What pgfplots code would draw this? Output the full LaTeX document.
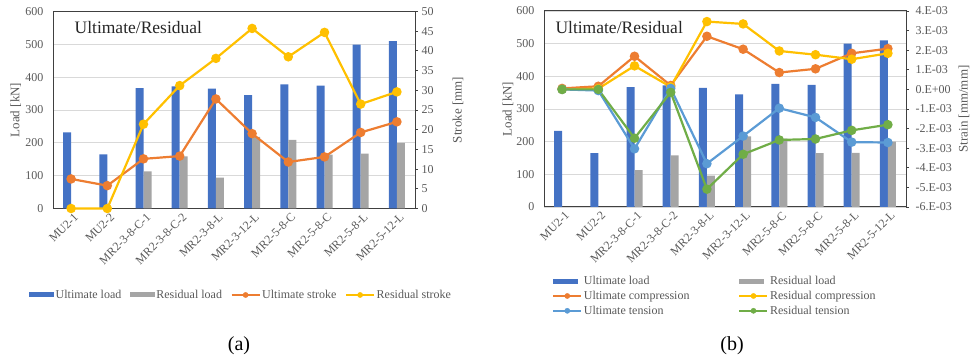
\documentclass[border=0pt]{standalone}
\usepackage{fontspec}
\setmainfont{Liberation Serif}
\usepackage{pgfplots}
\pgfplotsset{compat=1.18}

\definecolor{ulblue}{HTML}{4472C4}
\definecolor{rlgray}{HTML}{A5A5A5}
\definecolor{uorange}{HTML}{ED7D31}
\definecolor{ryellow}{HTML}{FFC000}
\definecolor{utblue}{HTML}{5B9BD5}
\definecolor{rgreen}{HTML}{70AD47}
\definecolor{axisgray}{HTML}{404040}
\definecolor{ticktext}{HTML}{595959}
\definecolor{gridgray}{HTML}{D9D9D9}

\pgfplotsset{
  common/.style={
    scale only axis, width=362pt, height=197pt, anchor=south west,
    xmin=-0.5, xmax=9.5,
    ticklabel style={font=\fontsize{12}{13}\selectfont, text=ticktext},
    label style={font=\fontsize{13}{15}\selectfont, text=ticktext},
    /pgf/number format/assume math mode=true,
  },
  loadaxis/.style={
    common,
    ymin=0, ymax=600, ytick={0,100,...,600},
    xtick={0,...,9},
    xticklabels={MU2-1,MU2-2,MR2-3-8-C-1,MR2-3-8-C-2,MR2-3-8-L,MR2-3-12-L,MR2-5-8-C,MR2-5-8-C,MR2-5-8-L,MR2-5-12-L},
    xticklabel style={rotate=45, anchor=north east, inner sep=1pt, yshift=-3pt},
    ymajorgrids, grid style={gridgray, line width=0.8pt},
    axis line style={axisgray, line width=1pt},
    major tick length=0pt,
    yticklabel style={xshift=-6pt},
    ylabel={Load [kN]},
    legend cell align=left,
    legend style={draw=none, fill=none, inner sep=0pt,
      font=\fontsize{12}{13}\selectfont, text=ticktext,
      nodes={inner sep=1.5pt}},
  },
  rightaxis/.style={
    common,
    axis y line*=right, axis x line=none,
    tick align=outside, major tick length=3pt,
    ytick style={axisgray, line width=0.8pt},
    axis line style={axisgray, line width=1pt},
    clip=false,
  },
  serline/.style={color=#1, line width=2.2pt, mark=*, mark size=3.6pt,
    mark options={solid, fill=#1, draw=#1}},
}

\begin{document}
\begin{tikzpicture}
\useasboundingbox (0pt,0pt) rectangle (973pt,358pt);

% ---------------- (a) load and stroke ----------------
\begin{axis}[loadaxis, at={(53pt,149.5pt)},
  ylabel style={at={(axis description cs:-0.103,0.5)}, anchor=center},
  legend columns=4,
  legend style={at={(axis description cs:0.519,-0.439)}, anchor=center,
    /tikz/every even column/.append style={column sep=7pt}},
]
\addplot[ybar, bar width=8pt, bar shift=-4pt, fill=ulblue, draw=none,
  legend image code/.code={\fill[ulblue] (0pt,-2.5pt) rectangle (25pt,2.5pt);}]
  coordinates {(0,232) (1,165) (2,367) (3,372) (4,365) (5,345) (6,378) (7,374) (8,499) (9,510)};
\addlegendentry{Ultimate load}
\addplot[ybar, bar width=8pt, bar shift=4pt, fill=rlgray, draw=none,
  legend image code/.code={\fill[rlgray] (0pt,-2.5pt) rectangle (25pt,2.5pt);}]
  coordinates {(2,113) (3,159) (4,94) (5,218) (6,209) (7,164) (8,167) (9,200)};
\addlegendentry{Residual load}
\addlegendimage{legend image code/.code={\draw[uorange, line width=2.2pt] (0pt,0pt) -- (28pt,0pt); \fill[uorange] (14pt,0pt) circle (2.6pt);}}
\addlegendentry{Ultimate stroke}
\addlegendimage{legend image code/.code={\draw[ryellow, line width=2.2pt] (0pt,0pt) -- (28pt,0pt); \fill[ryellow] (14pt,0pt) circle (2.6pt);}}
\addlegendentry{Residual stroke}
\node[anchor=west, font=\fontsize{17.5}{20}\selectfont, text=black!85]
  at (axis description cs:0.05,0.921) {Ultimate/Residual};
\end{axis}

\begin{axis}[rightaxis, at={(53pt,149.5pt)},
  ymin=0, ymax=50, ytick={0,5,...,50},
  ylabel={Stroke [mm]},
  ylabel style={at={(axis description cs:1.119,0.5)}, anchor=center, rotate=0},
]
\addplot[serline=uorange]
  coordinates {(0,7.5) (1,5.8) (2,12.6) (3,13.3) (4,27.8) (5,19.0) (6,11.8) (7,13.1) (8,19.3) (9,22.0)};
\addplot[serline=ryellow]
  coordinates {(0,0) (1,0) (2,21.4) (3,31.2) (4,38.1) (5,45.7) (6,38.5) (7,44.7) (8,26.5) (9,29.6)};
\end{axis}

% ---------------- (b) load and strain ----------------
\begin{axis}[loadaxis, at={(544pt,151pt)}, height=196pt,
  ylabel style={at={(axis description cs:-0.0995,0.5)}, anchor=center},
  legend columns=2,
  legend style={at={(axis description cs:0.022,-0.454)}, anchor=west,
    /tikz/row sep=2pt},
]
\addplot[ybar, bar width=8pt, bar shift=-4pt, fill=ulblue, draw=none,
  legend image code/.code={\fill[ulblue] (0pt,-2.5pt) rectangle (25pt,2.5pt);}]
  coordinates {(0,233) (1,165) (2,367) (3,372) (4,365) (5,345) (6,377) (7,374) (8,500) (9,510)};
\addlegendentry{\makebox[153pt][l]{Ultimate load}}
\addplot[ybar, bar width=8pt, bar shift=4pt, fill=rlgray, draw=none,
  legend image code/.code={\fill[rlgray] (0pt,-2.5pt) rectangle (25pt,2.5pt);}]
  coordinates {(2,113) (3,158) (4,96) (5,216) (6,209) (7,165) (8,166) (9,200)};
\addlegendentry{Residual load}
\addlegendimage{legend image code/.code={\draw[uorange, line width=2.2pt] (0pt,0pt) -- (28pt,0pt); \fill[uorange] (14pt,0pt) circle (2.6pt);}}
\addlegendentry{\makebox[153pt][l]{Ultimate compression}}
\addlegendimage{legend image code/.code={\draw[ryellow, line width=2.2pt] (0pt,0pt) -- (28pt,0pt); \fill[ryellow] (14pt,0pt) circle (2.6pt);}}
\addlegendentry{Residual compression}
\addlegendimage{legend image code/.code={\draw[utblue, line width=2.2pt] (0pt,0pt) -- (28pt,0pt); \fill[utblue] (14pt,0pt) circle (2.6pt);}}
\addlegendentry{\makebox[153pt][l]{Ultimate tension}}
\addlegendimage{legend image code/.code={\draw[rgreen, line width=2.2pt] (0pt,0pt) -- (28pt,0pt); \fill[rgreen] (14pt,0pt) circle (2.6pt);}}
\addlegendentry{Residual tension}
\node[anchor=west, font=\fontsize{17.5}{20}\selectfont, text=black!85]
  at (axis description cs:0.022,0.918) {Ultimate/Residual};
\end{axis}

\begin{axis}[rightaxis, at={(544pt,151pt)}, height=196pt,
  ymin=-0.006, ymax=0.004, scaled y ticks=false,
  ytick={-0.006,-0.005,-0.004,-0.003,-0.002,-0.001,0,0.001,0.002,0.003,0.004},
  yticklabels={-6.E-03,-5.E-03,-4.E-03,-3.E-03,-2.E-03,-1.E-03,0.E+00,1.E-03,2.E-03,3.E-03,4.E-03},
  yticklabel style={xshift=3pt},
  ylabel={Strain [mm/mm]},
  ylabel style={at={(axis description cs:1.16,0.5)}, anchor=center, rotate=0},
]
\addplot[serline=uorange]
  coordinates {(0,0.00005) (1,0.00016) (2,0.00169) (3,0.00020) (4,0.00271) (5,0.00205) (6,0.00086) (7,0.00105) (8,0.00184) (9,0.00208)};
\addplot[serline=ryellow]
  coordinates {(0,0) (1,0.00004) (2,0.00120) (3,0.00013) (4,0.00346) (5,0.00334) (6,0.00196) (7,0.00177) (8,0.00154) (9,0.00184)};
\addplot[serline=utblue]
  coordinates {(0,0) (1,-0.00006) (2,-0.00303) (3,0.00005) (4,-0.00379) (5,-0.00238) (6,-0.00096) (7,-0.00143) (8,-0.00269) (9,-0.00271)};
\addplot[serline=rgreen]
  coordinates {(0,0) (1,0) (2,-0.00249) (3,-0.00015) (4,-0.00509) (5,-0.00331) (6,-0.00258) (7,-0.00253) (8,-0.00209) (9,-0.00180)};
\end{axis}

\node[font=\fontsize{20}{22}\selectfont] at (239pt,12pt) {(a)};
\node[font=\fontsize{20}{22}\selectfont] at (732pt,12pt) {(b)};
\end{tikzpicture}
\end{document}
